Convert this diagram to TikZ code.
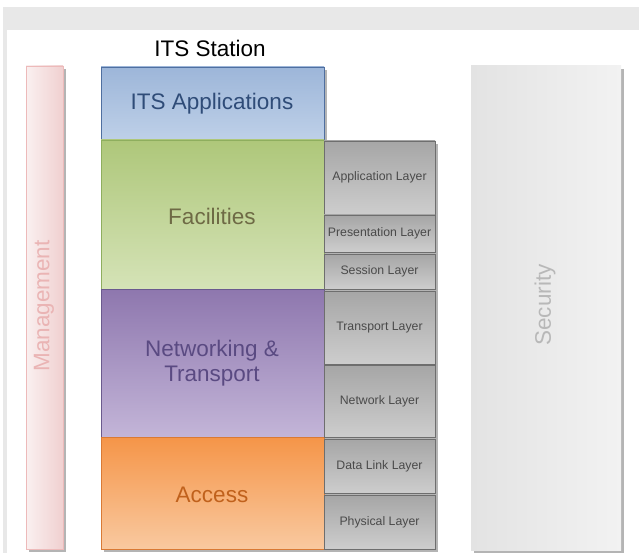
\documentclass[tikz,border=0pt]{standalone}
\usepackage{fontspec}
\setmainfont{Liberation Sans}
\begin{document}
\begin{tikzpicture}[x=1pt,y=-1pt]
  % colours
  \definecolor{framegray}{HTML}{E8E8E8}
  \definecolor{shadowgray}{HTML}{B4B4B4}
  \definecolor{appTop}{HTML}{9DB6D9}\definecolor{appBot}{HTML}{BED0E8}
  \definecolor{appLine}{HTML}{4F6FA0}\definecolor{appText}{HTML}{2F4C78}
  \definecolor{facTop}{HTML}{AEC77A}\definecolor{facBot}{HTML}{D5E3B7}
  \definecolor{facLine}{HTML}{8EAE5E}\definecolor{facText}{HTML}{6E6A45}
  \definecolor{netTop}{HTML}{8E77AE}\definecolor{netBot}{HTML}{C3B5D8}
  \definecolor{netLine}{HTML}{6B5A8E}\definecolor{netText}{HTML}{5A4A82}
  \definecolor{accTop}{HTML}{F59548}\definecolor{accBot}{HTML}{F9C9A0}
  \definecolor{accLine}{HTML}{D97A35}\definecolor{accText}{HTML}{C0611C}
  \definecolor{osiTop}{HTML}{A6A6A6}\definecolor{osiBot}{HTML}{CDCDCD}
  \definecolor{osiLine}{HTML}{6E6E6E}\definecolor{osiText}{HTML}{4A4A4A}
  \definecolor{mgmtLeft}{HTML}{FAF0F0}\definecolor{mgmtRight}{HTML}{F0D0D0}
  \definecolor{mgmtLine}{HTML}{EDBABA}\definecolor{mgmtText}{HTML}{EAB4B4}
  \definecolor{secLeft}{HTML}{E3E3E3}\definecolor{secRight}{HTML}{F2F2F2}
  \definecolor{secText}{HTML}{B8B8B8}

  \tikzset{
    box/.style={rectangle, anchor=north west, inner sep=0pt, outer sep=0pt,
      line width=0.8pt, align=center},
    bigtext/.style={font=\fontsize{22.5}{25}\selectfont},
    osibox/.style={box, draw=osiLine, top color=osiTop, bottom color=osiBot,
      minimum width=111pt, text=osiText, font=\fontsize{12.3}{14}\selectfont},
  }

  % page and frame
  \useasboundingbox (0,0) rectangle (639,553);
  \fill[white] (0,0) rectangle (639,553);
  \fill[framegray] (3,7) rectangle (639,30);
  \fill[framegray] (3,30) rectangle (7,553);

  % shadows
  \fill[shadowgray] (29,69) rectangle (66,552);
  \fill[shadowgray] (474,69) rectangle (624,553);
  \fill[shadowgray] (104,70) rectangle (327,552);
  \fill[shadowgray] (327,144) rectangle (438,552);

  % side pillars
  \node[box, draw=mgmtLine, left color=mgmtLeft, right color=mgmtRight,
        minimum width=37pt, minimum height=483pt] (mgmt) at (26,66) {};
  \node[rotate=90, bigtext, text=mgmtText] (mgmtlabel) at (44,306) {Management};

  \node[box, left color=secLeft, right color=secRight,
        minimum width=150pt, minimum height=484pt] (sec) at (471,66) {};
  \node[rotate=90, bigtext, text=secText] (seclabel) at (545,305) {Security};

  % title
  \node[bigtext] (title) at (210,48) {ITS Station};

  % ITS station layers
  \node[box, draw=appLine, top color=appTop, bottom color=appBot,
        minimum width=223pt, minimum height=73pt] (apps) at (101,67) {};
  \node[bigtext, text=appText] (appslabel) at (212,104) {ITS Applications};
  \node[box, draw=facLine, top color=facTop, bottom color=facBot,
        minimum width=223pt, minimum height=149pt] (fac) at (101,140) {};
  \node[bigtext, text=facText] (faclabel) at (212,216) {Facilities};
  \node[box, draw=netLine, top color=netTop, bottom color=netBot,
        minimum width=223pt, minimum height=148pt] (net) at (101,289) {};
  \node[bigtext, text=netText, align=center] (netlabel) at (212,363)
        {Networking \&\\Transport};
  \node[box, draw=accLine, top color=accTop, bottom color=accBot,
        minimum width=223pt, minimum height=112pt] (acc) at (101,437) {};
  \node[bigtext, text=accText] (acclabel) at (212,495) {Access};

  % OSI reference layers
  \node[osibox, minimum height=73pt] (osi7) at (324,141) {Application Layer};
  \node[osibox, minimum height=37pt] (osi6) at (324,215) {Presentation Layer};
  \node[osibox, minimum height=35pt] (osi5) at (324,254) {Session Layer};
  \node[osibox, minimum height=73pt] (osi4) at (324,291) {Transport Layer};
  \node[osibox, minimum height=72pt] (osi3) at (324,365) {Network Layer};
  \node[osibox, minimum height=54pt] (osi2) at (324,439) {Data Link Layer};
  \node[osibox, minimum height=54pt] (osi1) at (324,495) {Physical Layer};
\end{tikzpicture}
\end{document}
